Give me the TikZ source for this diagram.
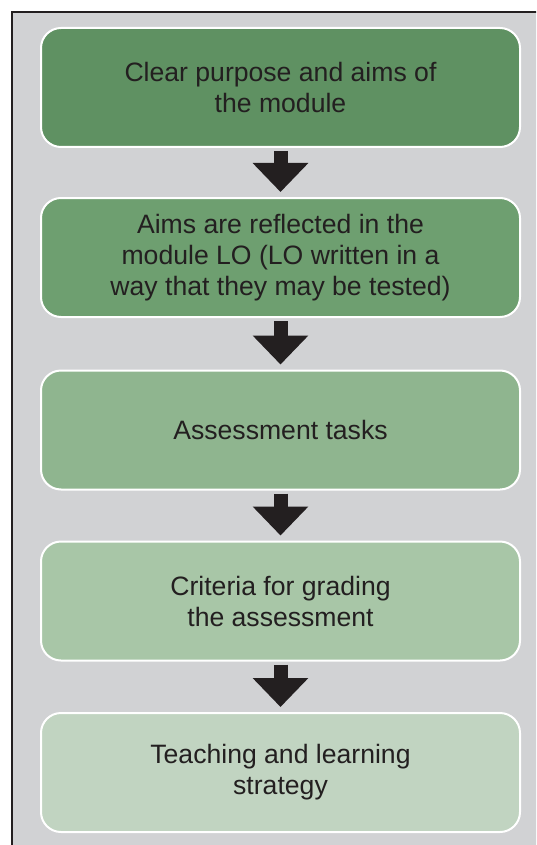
\documentclass[tikz,border=0pt]{standalone}
\usepackage{fontspec}
\setmainfont{Liberation Sans}
\usetikzlibrary{arrows.meta}

\definecolor{inkdark}{HTML}{231F20}
\definecolor{panelgray}{HTML}{D1D2D4}
\definecolor{greenA}{HTML}{5F9162}
\definecolor{greenB}{HTML}{6E9F70}
\definecolor{greenC}{HTML}{8FB58F}
\definecolor{greenD}{HTML}{A8C6A7}
\definecolor{greenE}{HTML}{C1D4C1}

\tikzset{
  stage/.style={rectangle, rounded corners=20pt, draw=white, line width=2pt,
    minimum width=479pt, minimum height=119pt, align=center, text=inkdark,
    font=\fontsize{26.6}{31}\selectfont},
  flowarrow/.style={draw=inkdark, line width=14pt,
    -{Triangle[width=54pt,length=29pt]}, shorten <=3pt, shorten >=5pt}
}

\begin{document}
\begin{tikzpicture}[x=1pt,y=-1pt]
        \useasboundingbox (0,0) rectangle (536,845);
        % outer panel
        \begin{scope}
            \clip (0,0) rectangle (536,845);
            \draw[fill=panelgray, draw=inkdark, line width=2.5pt] (12,12) rectangle (560,870);
        \end{scope}

        \node[stage, fill=greenA] (aims) at (280.5,87.5) {Clear purpose and aims of\\the module};
        \node[stage, fill=greenB] (lo) at (280.5,257.5) {Aims are reflected in the\\module LO (LO written in a\\way that they may be tested)};
        \node[stage, fill=greenC] (tasks) at (280.5,430) {Assessment tasks};
        \node[stage, fill=greenD] (criteria) at (280.5,601) {Criteria for grading\\the assessment};
        \node[stage, fill=greenE] (teaching) at (280.5,772.5) {Teaching and learning\\strategy};

        \draw[flowarrow] (aims) -- (lo);
        \draw[flowarrow] (lo) -- (tasks);
        \draw[flowarrow] (tasks) -- (criteria);
        \draw[flowarrow] (criteria) -- (teaching);
\end{tikzpicture}
\end{document}
